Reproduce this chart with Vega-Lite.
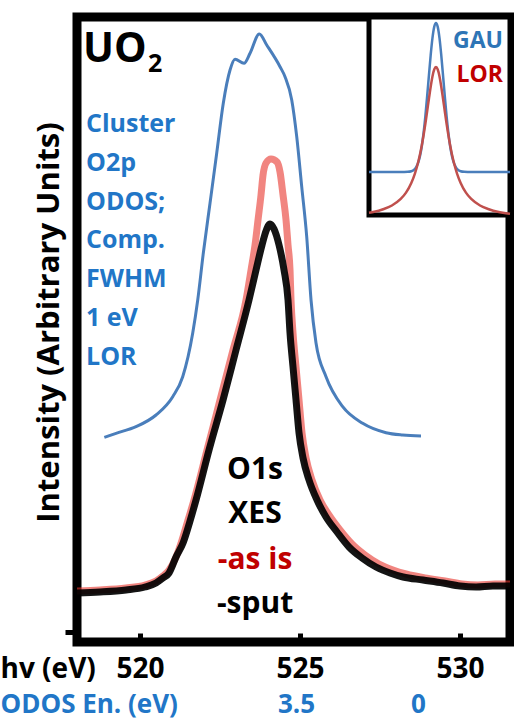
{
  "$schema": "https://vega.github.io/schema/vega-lite/v6.json",
  "width": 433,
  "height": 625,
  "autosize": {"type": "none"},
  "padding": {"left": 77, "top": 17, "right": 4, "bottom": 77},
  "background": "white",
  "config": {
    "view": {"stroke": "black", "strokeWidth": 9},
    "font": "Open Sans",
    "text": {"font": "Open Sans"},
    "axis": {"grid": false, "domain": false}
  },
  "datasets": {
    "spectra": [
      {"series": "ODOS", "ev": 518.884, "intensity": 31.15},
      {"series": "ODOS", "ev": 519.25, "intensity": 31.79},
      {"series": "ODOS", "ev": 519.875, "intensity": 32.85},
      {"series": "ODOS", "ev": 520.5, "intensity": 34.72},
      {"series": "ODOS", "ev": 521.022, "intensity": 37.65},
      {"series": "ODOS", "ev": 521.334, "intensity": 40.85},
      {"series": "ODOS", "ev": 521.647, "intensity": 47.84},
      {"series": "ODOS", "ev": 521.803, "intensity": 53.12},
      {"series": "ODOS", "ev": 521.978, "intensity": 60.64},
      {"series": "ODOS", "ev": 522.188, "intensity": 68.64},
      {"series": "ODOS", "ev": 522.397, "intensity": 76.64},
      {"series": "ODOS", "ev": 522.603, "intensity": 84.64},
      {"series": "ODOS", "ev": 522.813, "intensity": 89.92},
      {"series": "ODOS", "ev": 522.969, "intensity": 91.63},
      {"series": "ODOS", "ev": 523.25, "intensity": 90.99},
      {"series": "ODOS", "ev": 523.438, "intensity": 92.59},
      {"series": "ODOS", "ev": 523.728, "intensity": 95.68},
      {"series": "ODOS", "ev": 523.959, "intensity": 93.92},
      {"series": "ODOS", "ev": 524.375, "intensity": 90.45},
      {"series": "ODOS", "ev": 524.531, "intensity": 88.85},
      {"series": "ODOS", "ev": 524.741, "intensity": 85.12},
      {"series": "ODOS", "ev": 524.897, "intensity": 79.25},
      {"series": "ODOS", "ev": 525.053, "intensity": 71.25},
      {"series": "ODOS", "ev": 525.209, "intensity": 63.25},
      {"series": "ODOS", "ev": 525.344, "intensity": 53.12},
      {"series": "ODOS", "ev": 525.5, "intensity": 46.24},
      {"series": "ODOS", "ev": 525.813, "intensity": 40.85},
      {"series": "ODOS", "ev": 526.334, "intensity": 36.05},
      {"series": "ODOS", "ev": 526.959, "intensity": 33.39},
      {"series": "ODOS", "ev": 527.688, "intensity": 31.89},
      {"series": "ODOS", "ev": 528.209, "intensity": 31.52},
      {"series": "ODOS", "ev": 528.781, "intensity": 31.36},

      {"series": "as is", "ev": 518.0, "intensity": 6.56},
      {"series": "as is", "ev": 518.75, "intensity": 6.72},
      {"series": "as is", "ev": 519.5625, "intensity": 7.04},
      {"series": "as is", "ev": 520.156, "intensity": 7.52},
      {"series": "as is", "ev": 520.5, "intensity": 8.16},
      {"series": "as is", "ev": 520.719, "intensity": 8.96},
      {"series": "as is", "ev": 520.906, "intensity": 9.92},
      {"series": "as is", "ev": 521.125, "intensity": 12.0},
      {"series": "as is", "ev": 521.3125, "intensity": 14.72},
      {"series": "as is", "ev": 521.5, "intensity": 17.92},
      {"series": "as is", "ev": 521.6875, "intensity": 21.12},
      {"series": "as is", "ev": 522.094, "intensity": 29.12},
      {"series": "as is", "ev": 522.5, "intensity": 37.12},
      {"series": "as is", "ev": 522.906, "intensity": 45.12},
      {"series": "as is", "ev": 523.3125, "intensity": 53.12},
      {"series": "as is", "ev": 523.469, "intensity": 57.92},
      {"series": "as is", "ev": 523.594, "intensity": 61.92},
      {"series": "as is", "ev": 523.6875, "intensity": 65.92},
      {"series": "as is", "ev": 523.781, "intensity": 69.92},
      {"series": "as is", "ev": 523.844, "intensity": 73.12},
      {"series": "as is", "ev": 523.9375, "intensity": 75.04},
      {"series": "as is", "ev": 524.094, "intensity": 75.68},
      {"series": "as is", "ev": 524.281, "intensity": 75.2},
      {"series": "as is", "ev": 524.375, "intensity": 73.6},
      {"series": "as is", "ev": 524.469, "intensity": 69.92},
      {"series": "as is", "ev": 524.5625, "intensity": 65.92},
      {"series": "as is", "ev": 524.625, "intensity": 61.92},
      {"series": "as is", "ev": 524.6875, "intensity": 57.92},
      {"series": "as is", "ev": 524.719, "intensity": 53.12},
      {"series": "as is", "ev": 524.781, "intensity": 47.84},
      {"series": "as is", "ev": 524.875, "intensity": 42.4},
      {"series": "as is", "ev": 524.969, "intensity": 37.12},
      {"series": "as is", "ev": 525.0625, "intensity": 31.84},
      {"series": "as is", "ev": 525.1875, "intensity": 27.84},
      {"series": "as is", "ev": 525.375, "intensity": 24.32},
      {"series": "as is", "ev": 525.625, "intensity": 21.12},
      {"series": "as is", "ev": 525.906, "intensity": 18.72},
      {"series": "as is", "ev": 526.25, "intensity": 16.32},
      {"series": "as is", "ev": 526.625, "intensity": 14.08},
      {"series": "as is", "ev": 527.031, "intensity": 12.32},
      {"series": "as is", "ev": 527.469, "intensity": 10.88},
      {"series": "as is", "ev": 527.906, "intensity": 9.92},
      {"series": "as is", "ev": 528.3125, "intensity": 9.28},
      {"series": "as is", "ev": 528.906, "intensity": 8.64},
      {"series": "as is", "ev": 529.531, "intensity": 8.16},
      {"series": "as is", "ev": 530.0625, "intensity": 7.68},
      {"series": "as is", "ev": 530.5625, "intensity": 7.52},
      {"series": "as is", "ev": 531.094, "intensity": 7.68},
      {"series": "as is", "ev": 531.5625, "intensity": 7.68},

      {"series": "sput", "ev": 518.0, "intensity": 6.24},
      {"series": "sput", "ev": 518.75, "intensity": 6.4},
      {"series": "sput", "ev": 519.5625, "intensity": 6.72},
      {"series": "sput", "ev": 520.156, "intensity": 7.2},
      {"series": "sput", "ev": 520.5, "intensity": 7.84},
      {"series": "sput", "ev": 520.719, "intensity": 8.64},
      {"series": "sput", "ev": 520.906, "intensity": 9.44},
      {"series": "sput", "ev": 521.125, "intensity": 12.0},
      {"series": "sput", "ev": 521.344, "intensity": 14.24},
      {"series": "sput", "ev": 521.5625, "intensity": 17.76},
      {"series": "sput", "ev": 521.75, "intensity": 21.12},
      {"series": "sput", "ev": 522.156, "intensity": 29.12},
      {"series": "sput", "ev": 522.594, "intensity": 37.12},
      {"series": "sput", "ev": 523.0, "intensity": 45.12},
      {"series": "sput", "ev": 523.406, "intensity": 53.12},
      {"series": "sput", "ev": 523.625, "intensity": 57.92},
      {"series": "sput", "ev": 523.8125, "intensity": 61.92},
      {"series": "sput", "ev": 523.9375, "intensity": 64.16},
      {"series": "sput", "ev": 524.0625, "intensity": 65.28},
      {"series": "sput", "ev": 524.1875, "intensity": 64.48},
      {"series": "sput", "ev": 524.344, "intensity": 61.92},
      {"series": "sput", "ev": 524.5, "intensity": 57.92},
      {"series": "sput", "ev": 524.625, "intensity": 53.12},
      {"series": "sput", "ev": 524.6875, "intensity": 47.84},
      {"series": "sput", "ev": 524.781, "intensity": 42.4},
      {"series": "sput", "ev": 524.875, "intensity": 37.12},
      {"series": "sput", "ev": 524.969, "intensity": 31.84},
      {"series": "sput", "ev": 525.094, "intensity": 27.84},
      {"series": "sput", "ev": 525.281, "intensity": 24.32},
      {"series": "sput", "ev": 525.531, "intensity": 21.12},
      {"series": "sput", "ev": 525.8125, "intensity": 18.4},
      {"series": "sput", "ev": 526.156, "intensity": 16.0},
      {"series": "sput", "ev": 526.531, "intensity": 13.6},
      {"series": "sput", "ev": 526.9375, "intensity": 11.84},
      {"series": "sput", "ev": 527.375, "intensity": 10.4},
      {"series": "sput", "ev": 527.8125, "intensity": 9.44},
      {"series": "sput", "ev": 528.219, "intensity": 8.8},
      {"series": "sput", "ev": 528.844, "intensity": 8.32},
      {"series": "sput", "ev": 529.469, "intensity": 7.84},
      {"series": "sput", "ev": 530.0, "intensity": 7.36},
      {"series": "sput", "ev": 530.5, "intensity": 7.2},
      {"series": "sput", "ev": 531.031, "intensity": 7.36},
      {"series": "sput", "ev": 531.5625, "intensity": 7.36}
    ],
    "inset": [
      {"shape": "GAU", "x": -3.8, "y": 0.217},
      {"shape": "GAU", "x": -2.0, "y": 0.217},
      {"shape": "GAU", "x": -1.6, "y": 0.218},
      {"shape": "GAU", "x": -1.4, "y": 0.221},
      {"shape": "GAU", "x": -1.3, "y": 0.225},
      {"shape": "GAU", "x": -1.2, "y": 0.232},
      {"shape": "GAU", "x": -1.1, "y": 0.246},
      {"shape": "GAU", "x": -1.0, "y": 0.267},
      {"shape": "GAU", "x": -0.9, "y": 0.301},
      {"shape": "GAU", "x": -0.8, "y": 0.35},
      {"shape": "GAU", "x": -0.7, "y": 0.417},
      {"shape": "GAU", "x": -0.6, "y": 0.501},
      {"shape": "GAU", "x": -0.5, "y": 0.6},
      {"shape": "GAU", "x": -0.4, "y": 0.705},
      {"shape": "GAU", "x": -0.3, "y": 0.807},
      {"shape": "GAU", "x": -0.2, "y": 0.893},
      {"shape": "GAU", "x": -0.1, "y": 0.95},
      {"shape": "GAU", "x": 0.0, "y": 0.97},
      {"shape": "GAU", "x": 0.1, "y": 0.95},
      {"shape": "GAU", "x": 0.2, "y": 0.893},
      {"shape": "GAU", "x": 0.3, "y": 0.807},
      {"shape": "GAU", "x": 0.4, "y": 0.705},
      {"shape": "GAU", "x": 0.5, "y": 0.6},
      {"shape": "GAU", "x": 0.6, "y": 0.501},
      {"shape": "GAU", "x": 0.7, "y": 0.417},
      {"shape": "GAU", "x": 0.8, "y": 0.35},
      {"shape": "GAU", "x": 0.9, "y": 0.301},
      {"shape": "GAU", "x": 1.0, "y": 0.267},
      {"shape": "GAU", "x": 1.1, "y": 0.246},
      {"shape": "GAU", "x": 1.2, "y": 0.232},
      {"shape": "GAU", "x": 1.3, "y": 0.225},
      {"shape": "GAU", "x": 1.4, "y": 0.221},
      {"shape": "GAU", "x": 1.6, "y": 0.218},
      {"shape": "GAU", "x": 2.0, "y": 0.217},
      {"shape": "GAU", "x": 4.2, "y": 0.217},

      {"shape": "LOR", "x": -3.8, "y": 0.011},
      {"shape": "LOR", "x": -3.5, "y": 0.016},
      {"shape": "LOR", "x": -3.0, "y": 0.029},
      {"shape": "LOR", "x": -2.5, "y": 0.048},
      {"shape": "LOR", "x": -2.0, "y": 0.081},
      {"shape": "LOR", "x": -1.7, "y": 0.113},
      {"shape": "LOR", "x": -1.4, "y": 0.162},
      {"shape": "LOR", "x": -1.2, "y": 0.208},
      {"shape": "LOR", "x": -1.0, "y": 0.27},
      {"shape": "LOR", "x": -0.8, "y": 0.354},
      {"shape": "LOR", "x": -0.7, "y": 0.405},
      {"shape": "LOR", "x": -0.6, "y": 0.462},
      {"shape": "LOR", "x": -0.5, "y": 0.524},
      {"shape": "LOR", "x": -0.4, "y": 0.587},
      {"shape": "LOR", "x": -0.3, "y": 0.648},
      {"shape": "LOR", "x": -0.2, "y": 0.7},
      {"shape": "LOR", "x": -0.1, "y": 0.735},
      {"shape": "LOR", "x": 0.0, "y": 0.747},
      {"shape": "LOR", "x": 0.1, "y": 0.735},
      {"shape": "LOR", "x": 0.2, "y": 0.7},
      {"shape": "LOR", "x": 0.3, "y": 0.648},
      {"shape": "LOR", "x": 0.4, "y": 0.587},
      {"shape": "LOR", "x": 0.5, "y": 0.524},
      {"shape": "LOR", "x": 0.6, "y": 0.462},
      {"shape": "LOR", "x": 0.7, "y": 0.405},
      {"shape": "LOR", "x": 0.8, "y": 0.354},
      {"shape": "LOR", "x": 1.0, "y": 0.27},
      {"shape": "LOR", "x": 1.2, "y": 0.208},
      {"shape": "LOR", "x": 1.4, "y": 0.162},
      {"shape": "LOR", "x": 1.7, "y": 0.113},
      {"shape": "LOR", "x": 2.0, "y": 0.081},
      {"shape": "LOR", "x": 2.5, "y": 0.048},
      {"shape": "LOR", "x": 3.0, "y": 0.029},
      {"shape": "LOR", "x": 3.5, "y": 0.016},
      {"shape": "LOR", "x": 3.8, "y": 0.011},
      {"shape": "LOR", "x": 4.2, "y": 0.006}
    ]
  },
  "layer": [
    {
      "layer": [
        {
          "data": {"name": "spectra"},
          "transform": [{"filter": "datum.series === 'ODOS'"}],
          "mark": {"type": "line", "color": "#4a7ebb", "strokeWidth": 3, "clip": true, "strokeJoin": "round", "interpolate": "monotone"},
          "encoding": {
            "x": {"field": "ev", "type": "quantitative",
              "scale": {"domain": [518.03, 531.5625], "nice": false, "zero": false},
              "axis": {"orient": "bottom", "values": [520, 525, 530], "format": "d",
                "labelFont": "Open Sans", "labelFontSize": 28, "labelFontWeight": "bold", "labelColor": "black",
                "labelBaseline": "alphabetic", "labelPadding": 44, "labelFlush": false, "labelOverlap": false,
                "ticks": true, "tickSize": -9, "tickWidth": 5, "tickColor": "black",
                "domain": false, "grid": false,
                "title": "hv (eV)", "titleFont": "Open Sans", "titleFontSize": 28, "titleFontWeight": "bold", "titleColor": "black",
                "titleAlign": "left", "titleBaseline": "alphabetic", "titleAngle": 0, "titleX": -77, "titleY": 35}},
            "y": {"field": "intensity", "type": "quantitative",
              "scale": {"domain": [-1.6, 98.4], "nice": false, "zero": false},
              "axis": {"values": [0], "labels": false, "ticks": true, "tickSize": 12, "tickWidth": 5, "tickColor": "black",
                "domain": false, "grid": false,
                "title": "Intensity (Arbitrary Units)", "titleFont": "Open Sans", "titleFontSize": 31, "titleFontWeight": "bold", "titleColor": "black",
                "titleAngle": -90, "titleAlign": "center", "titleBaseline": "alphabetic", "titleX": -19, "titleY": 305}}
          }
        },
        {
          "data": {"name": "spectra"},
          "transform": [{"filter": "datum.series === 'as is'"}],
          "mark": {"type": "line", "color": "#e8342c", "strokeWidth": 7, "opacity": 0.6, "clip": true, "strokeJoin": "round", "interpolate": "monotone"},
          "encoding": {
            "x": {"field": "ev", "type": "quantitative", "scale": {"domain": [518.03, 531.5625], "nice": false, "zero": false}, "axis": null},
            "y": {"field": "intensity", "type": "quantitative", "scale": {"domain": [-1.6, 98.4], "nice": false, "zero": false}, "axis": null}
          }
        },
        {
          "data": {"name": "spectra"},
          "transform": [{"filter": "datum.series === 'sput'"}],
          "mark": {"type": "line", "color": "black", "strokeWidth": 7, "opacity": 0.92, "clip": true, "strokeJoin": "round", "interpolate": "monotone"},
          "encoding": {
            "x": {"field": "ev", "type": "quantitative", "scale": {"domain": [518.03, 531.5625], "nice": false, "zero": false},
              "axis": {"orient": "bottom", "values": [524.875, 528.6875], "labelExpr": "datum.value < 527 ? '3.5' : '0'",
                "labelFont": "Open Sans", "labelFontSize": 26, "labelFontWeight": "bold", "labelColor": "#2176c7",
                "labelBaseline": "alphabetic", "labelPadding": 70, "labelFlush": false, "labelOverlap": false,
                "ticks": false, "domain": false, "grid": false,
                "title": "ODOS En. (eV)", "titleFont": "Open Sans", "titleFontSize": 26, "titleFontWeight": "bold", "titleColor": "#2176c7",
                "titleAlign": "left", "titleBaseline": "alphabetic", "titleAngle": 0, "titleX": -77, "titleY": 70}},
            "y": {"field": "intensity", "type": "quantitative", "scale": {"domain": [-1.6, 98.4], "nice": false, "zero": false}, "axis": null}
          }
        },
        {
          "data": {"values": [{}]},
          "mark": {"type": "text", "text": "UO", "font": "Open Sans", "fontWeight": "bold", "fontSize": 41, "align": "left", "baseline": "alphabetic", "color": "black"},
          "encoding": {
            "x": {"datum": 518.22, "type": "quantitative", "scale": {"domain": [518.03, 531.5625], "nice": false, "zero": false}, "axis": null},
            "y": {"datum": 91.2, "type": "quantitative", "scale": {"domain": [-1.6, 98.4], "nice": false, "zero": false}, "axis": null}
          }
        },
        {
          "data": {"values": [{}]},
          "mark": {"type": "text", "text": "2", "font": "Open Sans", "fontWeight": "bold", "fontSize": 25, "align": "left", "baseline": "alphabetic", "color": "black"},
          "encoding": {
            "x": {"datum": 520.25, "type": "quantitative", "scale": {"domain": [518.03, 531.5625], "nice": false, "zero": false}, "axis": null},
            "y": {"datum": 89.6, "type": "quantitative", "scale": {"domain": [-1.6, 98.4], "nice": false, "zero": false}, "axis": null}
          }
        },
        {
          "data": {"values": [{}]},
          "mark": {"type": "text", "text": ["Cluster", "O2p", "ODOS;", "Comp.", "FWHM", "1 eV", "LOR"], "lineHeight": 38.8,
            "font": "Open Sans", "fontWeight": "bold", "fontSize": 25, "align": "left", "baseline": "alphabetic", "color": "#2176c7"},
          "encoding": {
            "x": {"datum": 518.3125, "type": "quantitative", "scale": {"domain": [518.03, 531.5625], "nice": false, "zero": false}, "axis": null},
            "y": {"datum": 80.0, "type": "quantitative", "scale": {"domain": [-1.6, 98.4], "nice": false, "zero": false}, "axis": null}
          }
        },
        {
          "data": {"values": [{}]},
          "mark": {"type": "text", "text": ["O1s", "XES"], "lineHeight": 44,
            "font": "Open Sans", "fontWeight": "bold", "fontSize": 30, "align": "center", "baseline": "alphabetic", "color": "black"},
          "encoding": {
            "x": {"datum": 523.594, "type": "quantitative", "scale": {"domain": [518.03, 531.5625], "nice": false, "zero": false}, "axis": null},
            "y": {"datum": 24.48, "type": "quantitative", "scale": {"domain": [-1.6, 98.4], "nice": false, "zero": false}, "axis": null}
          }
        },
        {
          "data": {"values": [{}]},
          "mark": {"type": "text", "text": "-as is",
            "font": "Open Sans", "fontWeight": "bold", "fontSize": 30, "align": "center", "baseline": "alphabetic", "color": "#c00000"},
          "encoding": {
            "x": {"datum": 523.594, "type": "quantitative", "scale": {"domain": [518.03, 531.5625], "nice": false, "zero": false}, "axis": null},
            "y": {"datum": 10.08, "type": "quantitative", "scale": {"domain": [-1.6, 98.4], "nice": false, "zero": false}, "axis": null}
          }
        },
        {
          "data": {"values": [{}]},
          "mark": {"type": "text", "text": "-sput",
            "font": "Open Sans", "fontWeight": "bold", "fontSize": 30, "align": "center", "baseline": "alphabetic", "color": "black"},
          "encoding": {
            "x": {"datum": 523.594, "type": "quantitative", "scale": {"domain": [518.03, 531.5625], "nice": false, "zero": false}, "axis": null},
            "y": {"datum": 3.04, "type": "quantitative", "scale": {"domain": [-1.6, 98.4], "nice": false, "zero": false}, "axis": null}
          }
        }
      ],
      "resolve": {"axis": {"x": "independent", "y": "independent"}}
    },
    {
      "layer": [
        {
          "data": {"values": [{}]},
          "mark": {"type": "rect", "fill": "white", "stroke": "black", "strokeWidth": 5},
          "encoding": {
            "x": {"datum": -3.8, "type": "quantitative", "scale": {"domain": [-3.8, 4.2], "range": [292, 433], "nice": false, "zero": false}, "axis": null},
            "x2": {"datum": 4.2},
            "y": {"datum": 0, "type": "quantitative", "scale": {"domain": [0, 1], "range": [198, 0], "nice": false, "zero": false}, "axis": null},
            "y2": {"datum": 1}
          }
        },
        {
          "data": {"name": "inset"},
          "transform": [{"filter": "datum.shape === 'GAU'"}],
          "mark": {"type": "line", "color": "#4a7ebb", "strokeWidth": 2.5, "interpolate": "monotone"},
          "encoding": {
            "x": {"field": "x", "type": "quantitative", "scale": {"domain": [-3.8, 4.2], "range": [292, 433], "nice": false, "zero": false}, "axis": null},
            "y": {"field": "y", "type": "quantitative", "scale": {"domain": [0, 1], "range": [198, 0], "nice": false, "zero": false}, "axis": null}
          }
        },
        {
          "data": {"name": "inset"},
          "transform": [{"filter": "datum.shape === 'LOR'"}],
          "mark": {"type": "line", "color": "#c0504d", "strokeWidth": 2.5, "interpolate": "monotone"},
          "encoding": {
            "x": {"field": "x", "type": "quantitative", "scale": {"domain": [-3.8, 4.2], "range": [292, 433], "nice": false, "zero": false}, "axis": null},
            "y": {"field": "y", "type": "quantitative", "scale": {"domain": [0, 1], "range": [198, 0], "nice": false, "zero": false}, "axis": null}
          }
        },
        {
          "data": {"values": [{}]},
          "mark": {"type": "text", "text": "GAU", "font": "Open Sans", "fontWeight": "bold", "fontSize": 23, "align": "right", "baseline": "alphabetic", "color": "#2e75b6"},
          "encoding": {
            "x": {"datum": 3.8, "type": "quantitative", "scale": {"domain": [-3.8, 4.2], "range": [292, 433], "nice": false, "zero": false}, "axis": null},
            "y": {"datum": 0.843, "type": "quantitative", "scale": {"domain": [0, 1], "range": [198, 0], "nice": false, "zero": false}, "axis": null}
          }
        },
        {
          "data": {"values": [{}]},
          "mark": {"type": "text", "text": "LOR", "font": "Open Sans", "fontWeight": "bold", "fontSize": 23, "align": "right", "baseline": "alphabetic", "color": "#c00000"},
          "encoding": {
            "x": {"datum": 3.8, "type": "quantitative", "scale": {"domain": [-3.8, 4.2], "range": [292, 433], "nice": false, "zero": false}, "axis": null},
            "y": {"datum": 0.672, "type": "quantitative", "scale": {"domain": [0, 1], "range": [198, 0], "nice": false, "zero": false}, "axis": null}
          }
        }
      ]
    }
  ],
  "resolve": {"scale": {"x": "independent", "y": "independent"}, "axis": {"x": "independent", "y": "independent"}}
}
